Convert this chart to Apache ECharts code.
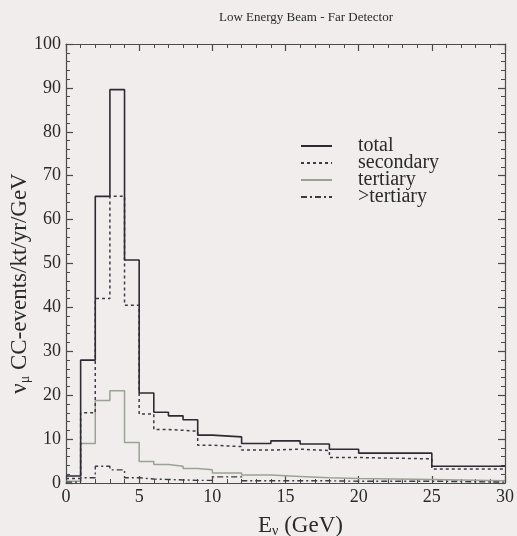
<!DOCTYPE html>
<html>
<head>
<meta charset="utf-8">
<script src="https://cdn.jsdelivr.net/npm/echarts@6/dist/echarts.min.js"></script>
<style>
  html, body { margin: 0; padding: 0; background: #f0edec; }
  #chart { width: 517px; height: 536px; }
</style>
</head>
<body>
<div id="chart"></div>
<script>
// Bin edges in GeV (variable width histogram)
const binEdges = [0, 1, 2, 3, 4, 5, 6, 7, 8, 9, 10, 12, 14, 16, 18, 20, 25, 30];

// Events per bin (nu_mu CC-events / kt / yr / GeV)
const totalEvents     = [1.6, 28, 65.3, 89.6, 50.8, 20.5, 16.1, 15.3, 14.4, 10.9, 10.5, 9.0, 9.6, 8.9, 7.7, 6.8, 3.8];
const secondaryEvents = [1.0, 16, 42, 65.3, 40.5, 15.7, 12.2, 12.0, 11.8, 8.6, 8.3, 7.5, 7.7, 7.4, 5.8, 5.5, 3.2];
const tertiaryEvents  = [0.4, 9, 18.8, 21, 9.2, 4.9, 4.2, 3.8, 3.3, 3.0, 2.3, 1.8, 1.5, 1.2, 1.0, 0.8, 0.5];
const higherEvents    = [0.2, 1.2, 3.8, 3.0, 1.2, 0.9, 0.8, 0.7, 0.6, 0.6, 1.4, 0.5, 0.5, 0.5, 0.4, 0.4, 0.2];

const seriesNames = ['total', 'secondary', 'tertiary', '>tertiary'];

// Turn bin contents into step points: one point per left edge plus the closing edge
function toSteps(values) {
  const pts = values.map((v, i) => [binEdges[i], v]);
  pts.push([binEdges[binEdges.length - 1], values[values.length - 1]]);
  return pts;
}

const serif = '"Liberation Serif", "DejaVu Serif", serif';
const ink = '#2e2a33';

const chart = echarts.init(document.getElementById('chart'), null, { renderer: 'canvas' });

function axisCommon(showLabels) {
  return {
    axisLine: { show: true, onZero: false, lineStyle: { color: '#4a4a4a', width: 1.2 } },
    axisTick: { show: true, inside: true, length: 7, lineStyle: { color: '#4a4a4a', width: 1.2 } },
    minorTick: { show: true, splitNumber: 5, length: 4, lineStyle: { color: '#4a4a4a', width: 1 } },
    splitLine: { show: false },
    axisLabel: {
      show: showLabels,
      fontFamily: serif,
      fontSize: 18,
      margin: 5,
      color: '#2a2a2a'
    }
  };
}

const option = {
  backgroundColor: '#f0edec',
  animation: false,
  title: {
    text: 'Low Energy Beam - Far Detector',
    left: 301,
    top: 6,
    textAlign: 'center',
    textStyle: { fontFamily: serif, fontSize: 13, fontWeight: 'normal', color: '#2a2a2a' }
  },
  legend: {
    data: seriesNames,
    orient: 'vertical',
    left: 300,
    top: 136,
    padding: 0,
    itemWidth: 31,
    itemHeight: 10,
    itemGap: -3,
    itemStyle: { opacity: 0 },
    textStyle: {
      fontFamily: serif,
      fontSize: 20,
      color: '#2a2a2a',
      lineHeight: 17,
      padding: [0, 0, 0, 21]
    }
  },
  grid: { left: 66, right: 12, top: 44, bottom: 53, containLabel: false, outerBoundsMode: 'none' },
  xAxis: [
    Object.assign(axisCommon(true), {
      type: 'value', min: 0, max: 30, interval: 5, position: 'bottom',
      name: '{a|E}{s|ν}{a| (GeV)}',
      nameLocation: 'middle',
      nameMoveOverlap: false,
      nameGap: 31,
      nameTextStyle: {
        padding: [0, 0, 0, 30],
        rich: {
          a: { fontFamily: serif, fontSize: 23, color: '#2a2a2a' },
          s: { fontFamily: serif, fontSize: 14, color: '#2a2a2a', padding: [10, 0, 0, 0] }
        }
      }
    }),
    Object.assign(axisCommon(false), {
      type: 'value', min: 0, max: 30, interval: 5, position: 'top'
    })
  ],
  yAxis: [
    Object.assign(axisCommon(true), {
      type: 'value', min: 0, max: 100, interval: 10, position: 'left',
      name: '{a|ν}{s|μ}{a| CC-events/kt/yr/GeV}',
      nameLocation: 'middle',
      nameMoveOverlap: false,
      nameGap: 34,
      nameRotate: 90,
      nameTextStyle: {
        padding: [0, 40, 0, 0],
        rich: {
          a: { fontFamily: serif, fontSize: 23, color: '#2a2a2a' },
          s: { fontFamily: serif, fontSize: 14, color: '#2a2a2a', padding: [10, 0, 0, 0] }
        }
      }
    }),
    Object.assign(axisCommon(false), {
      type: 'value', min: 0, max: 100, interval: 10, position: 'right'
    })
  ],
  series: [
    {
      name: 'total', type: 'line', step: 'end', symbol: 'none', z: 5,
      data: toSteps(totalEvents),
      lineStyle: { color: ink, width: 1.6, type: 'solid' },
      itemStyle: { color: ink }
    },
    {
      name: 'secondary', type: 'line', step: 'end', symbol: 'none', z: 4,
      data: toSteps(secondaryEvents),
      lineStyle: { color: '#3c3a44', width: 1.5, type: [3, 3] },
      itemStyle: { color: '#3c3a44' }
    },
    {
      name: 'tertiary', type: 'line', step: 'end', symbol: 'none', z: 3,
      data: toSteps(tertiaryEvents),
      lineStyle: { color: '#9aa392', width: 1.5, type: 'solid' },
      itemStyle: { color: '#9aa392' }
    },
    {
      name: '>tertiary', type: 'line', step: 'end', symbol: 'none', z: 3,
      data: toSteps(higherEvents),
      lineStyle: { color: '#3c3a44', width: 1.4, type: [6, 3, 2, 3] },
      itemStyle: { color: '#3c3a44' }
    }
  ]
};

chart.setOption(option);
</script>
</body>
</html>
